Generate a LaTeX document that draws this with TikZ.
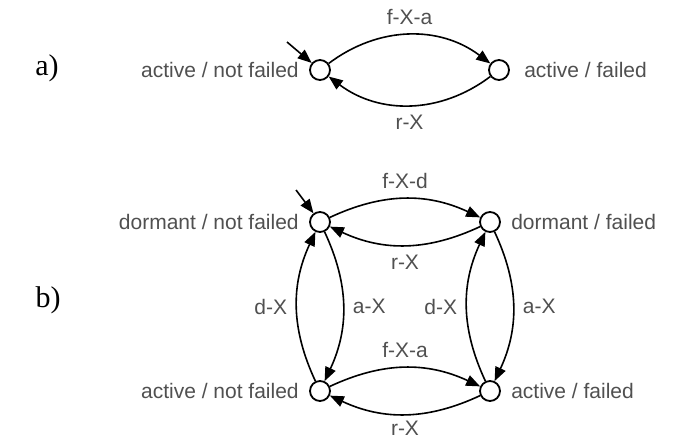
\documentclass[tikz,border=0pt]{standalone}
\usepackage{fontspec}
\setmainfont{Liberation Sans}
\newfontfamily\partfont{Liberation Serif}
\usetikzlibrary{positioning,arrows.meta}
\definecolor{labelgray}{RGB}{80,80,80}
\tikzset{
  st/.style={circle, draw, line width=0.9pt, minimum size=10pt, inner sep=0pt},
  stlbl/.style={text=labelgray, font=\fontsize{10.5}{12}\selectfont, inner sep=2pt},
  elbl/.style={text=labelgray, font=\fontsize{10.5}{12}\selectfont, inner sep=4.5pt},
  partlbl/.style={font=\partfont\fontsize{15}{18}\selectfont},
  edge/.style={line width=0.8pt, -{Triangle[length=7pt,width=5.5pt]}}
}

\begin{document}
\begin{tikzpicture}[x=0.5pt, y=-0.5pt, on grid, label distance=3pt]
        \useasboundingbox (0,0) rectangle (674,439);
        % Part labels
        \node[partlbl] (la) at (47,68) {a)};
        \node[partlbl] (lb) at (48,300) {b)};
        % Nodes in the first part
        \node[st, label={[stlbl]left:active / not failed}] (A1) at (320,70) {};
        \node[st, label={[stlbl, label distance=5pt]right:active / failed}, right=89.5pt of A1] (A2) {};
        \coordinate[above left=14pt and 16.5pt of A1] (A0);
        % Nodes in the second part
        \node[st, label={[stlbl]left:dormant / not failed}, below=76pt of A1] (B1) {};
        \node[st, label={[stlbl]right:dormant / failed}, right=85pt of B1] (B2) {};
        \node[st, label={[stlbl]left:active / not failed}, below=84.5pt of B1] (B3) {};
        \node[st, label={[stlbl]right:active / failed}, right=85pt of B3] (B4) {};
        \coordinate[above left=16pt and 12pt of B1] (B0);
        % Edges in the first part
        \draw[edge] (A0) -- (A1);
        \draw[edge] (A1) to[bend left=37] node[above, elbl] {f-X-a} (A2);
        \draw[edge] (A2) to[bend left=37] node[below, elbl] {r-X} (A1);
        % Edges in the second part
        \draw[edge] (B0) -- (B1);
        \draw[edge] (B1) to[bend left=25] node[above, elbl] {f-X-d} (B2);
        \draw[edge] (B2) to[bend left=25] node[below, elbl] {r-X} (B1);
        \draw[edge] (B3) to[bend left=25] node[left, elbl] {d-X} (B1);
        \draw[edge] (B1) to[bend left=25] node[right, elbl] {a-X} (B3);
        \draw[edge] (B4) to[bend left=25] node[left, elbl] {d-X} (B2);
        \draw[edge] (B2) to[bend left=25] node[right, elbl] {a-X} (B4);
        \draw[edge] (B3) to[bend left=25] node[above, elbl] {f-X-a} (B4);
        \draw[edge] (B4) to[bend left=25] node[below, elbl, inner sep=3pt] {r-X} (B3);
\end{tikzpicture}
\end{document}
